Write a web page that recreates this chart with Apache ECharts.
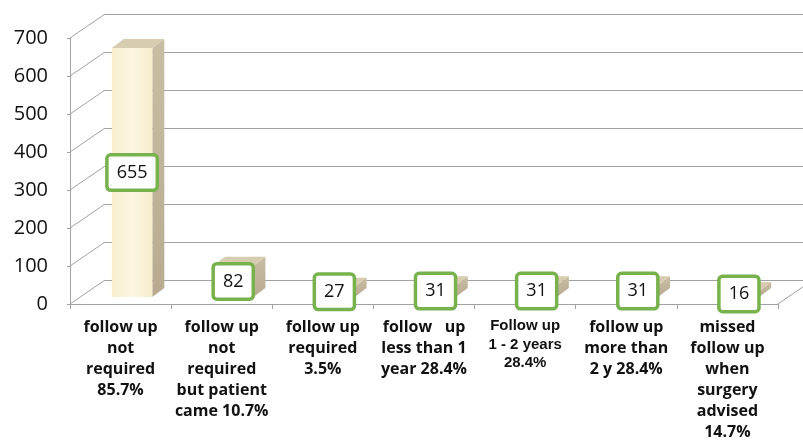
<!DOCTYPE html>
<html>
<head>
<meta charset="utf-8">
<script src="https://cdn.jsdelivr.net/npm/echarts@6/dist/echarts.min.js"></script>
<style>html,body{margin:0;padding:0;background:#fff}#c{width:803px;height:441px}</style>
</head>
<body>
<div id="c"></div>
<script>
const categories = [
  'follow up\nnot\nrequired\n85.7%',
  'follow up\nnot\nrequired\nbut patient\ncame 10.7%',
  'follow up\nrequired\n3.5%',
  'follow   up\nless than 1\nyear 28.4%',
  'Follow up\n1 - 2 years\n28.4%',
  'follow up\nmore than\n2 y 28.4%',
  'missed\nfollow up\nwhen\nsurgery\nadvised\n14.7%'
];
const values = [655, 82, 27, 31, 31, 31, 16];
const yMin = 0, yMax = 700, yInterval = 100;
const yTicks = [];
for (let t = yMin; t <= yMax; t += yInterval) yTicks.push(t);

// geometry of the 3D look
const WALL_DX = 35, WALL_DY = 24;   // depth of the chart box
const BAR_SHIFT_X = 11.5, BAR_SHIFT_Y = 7; // bar front face offset into depth
const BAR_DX = 12, BAR_DY = 9;      // bar depth

const chart = echarts.init(document.getElementById('c'));
const gridLine = '#a2a2a2';

chart.setOption({
  animation: false,
  grid: [
    { left: 70, top: 38, width: 708, height: 266 },
    { left: 70 + WALL_DX, top: 38 - WALL_DY, width: 708, height: 266 }
  ],
  xAxis: [
    {
      type: 'category', gridIndex: 0, data: categories,
      axisLine: { lineStyle: { color: gridLine, width: 1 } },
      axisTick: { show: true, length: 5, lineStyle: { color: gridLine } },
      axisLabel: {
        interval: 0, margin: 13,
        formatter: function (val, idx) {
          return idx === 4 ? '{b|' + val + '}' : '{a|' + val + '}';
        },
        rich: {
          a: { fontFamily: 'Open Sans', fontWeight: 'bold', fontSize: 16, lineHeight: 21, color: '#111', align: 'center' },
          b: { fontFamily: 'Liberation Sans', fontWeight: 'bold', fontSize: 15, lineHeight: 18.5, color: '#111', align: 'center' }
        }
      }
    },
    { type: 'category', gridIndex: 1, data: categories, show: false }
  ],
  yAxis: [
    {
      type: 'value', gridIndex: 0, min: yMin, max: yMax, interval: yInterval,
      axisLine: { show: true, lineStyle: { color: gridLine } },
      axisTick: { show: true, length: 3, lineStyle: { color: gridLine } },
      splitLine: { show: false },
      axisLabel: { margin: 22, fontFamily: 'Open Sans', fontSize: 20, color: '#111' }
    },
    {
      type: 'value', gridIndex: 1, min: yMin, max: yMax, interval: yInterval,
      axisLine: { show: false }, axisTick: { show: false }, axisLabel: { show: false },
      splitLine: { show: true, lineStyle: { color: gridLine, width: 1 } }
    }
  ],
  series: [
    {
      type: 'custom', xAxisIndex: 0, yAxisIndex: 0, silent: true,
      data: yTicks.map(t => [0, t]),
      renderItem: function (params, api) {
        const cs = params.coordSys;
        const y = api.coord([0, api.value(1)])[1];
        const x0 = cs.x;
        const children = [{
          type: 'line',
          shape: { x1: x0, y1: y, x2: x0 + WALL_DX, y2: y - WALL_DY },
          style: { stroke: gridLine, lineWidth: 1 }
        }];
        if (api.value(1) === yMin) {
          const xr = cs.x + cs.width;
          children.push({
            type: 'line',
            shape: { x1: xr, y1: y, x2: xr + WALL_DX, y2: y - WALL_DY },
            style: { stroke: gridLine, lineWidth: 1 }
          });
        }
        return { type: 'group', children: children };
      }
    },
    {
      type: 'custom', xAxisIndex: 0, yAxisIndex: 0, silent: true,
      data: values.map((v, i) => [i, v]),
      renderItem: function (params, api) {
        const i = api.value(0), v = api.value(1);
        const p0 = api.coord([i, 0]);
        const p1 = api.coord([i, v]);
        const band = api.size([1, 0])[0];
        const w = band * 0.4;
        const cx = p0[0] + BAR_SHIFT_X;
        const bottom = p0[1] - BAR_SHIFT_Y;
        const top = p1[1] - BAR_SHIFT_Y;
        const xl = cx - w / 2, xr = cx + w / 2;
        return {
          type: 'group',
          children: [
            {
              type: 'polygon',
              shape: { points: [[xr, top], [xr + BAR_DX, top - BAR_DY], [xr + BAR_DX, bottom - BAR_DY], [xr, bottom]] },
              style: { fill: new echarts.graphic.LinearGradient(0, 0, 0, 1, [
                { offset: 0, color: '#c9bda3' }, { offset: 1, color: '#b8ab92' }]) }
            },
            {
              type: 'polygon',
              shape: { points: [[xl, top], [xl + BAR_DX, top - BAR_DY], [xr + BAR_DX, top - BAR_DY], [xr, top]] },
              style: { fill: '#d7cbb0' }
            },
            {
              type: 'rect',
              shape: { x: xl, y: top, width: w, height: bottom - top },
              style: { fill: new echarts.graphic.LinearGradient(0, 0, 1, 0, [
                { offset: 0, color: '#f8eecd' }, { offset: 0.5, color: '#fcf6e2' }, { offset: 1, color: '#f6ecce' }]) },
              textContent: {
                style: {
                  text: String(v), fill: '#111', fontFamily: 'Open Sans', fontSize: 18, lineHeight: 22,
                  backgroundColor: '#fff', borderColor: '#77b24d', borderWidth: 3.5, borderRadius: 2,
                  padding: [5, 8]
                }
              },
              textConfig: { position: 'inside' }
            }
          ]
        };
      }
    }
  ]
});
</script>
</body>
</html>
